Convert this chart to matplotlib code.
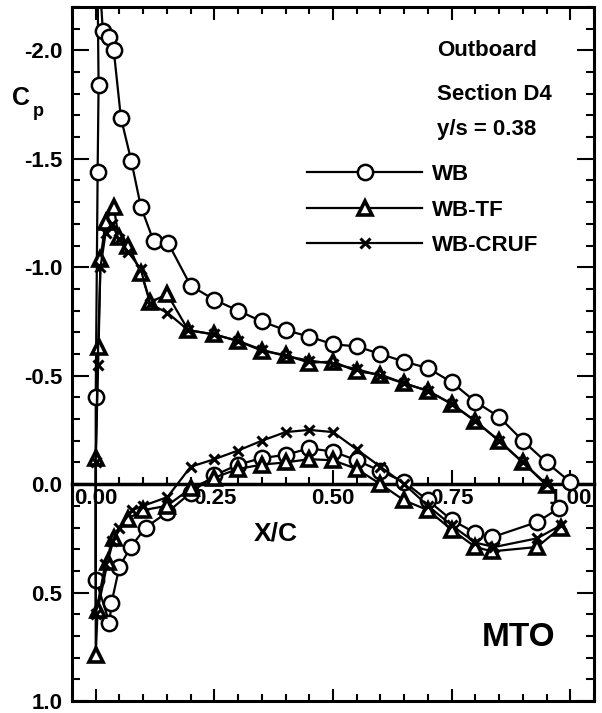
import numpy as np
import matplotlib
matplotlib.use("Agg")
import matplotlib.pyplot as plt
from matplotlib.ticker import MultipleLocator, FixedLocator, FormatStrFormatter

plt.rcParams["font.family"] = ["Liberation Sans", "DejaVu Sans"]
plt.rcParams["font.weight"] = "bold"
plt.rcParams["axes.unicode_minus"] = False

# ---- pressure distributions, each surface listed from the leading edge aft ----
# WB
wb_up_x = [0.0, 0.004, 0.006, 0.003, 0.015, 0.027, 0.038, 0.053, 0.075, 0.095, 0.122, 0.153,
           0.20, 0.25, 0.30, 0.35, 0.40, 0.45, 0.50, 0.55, 0.60, 0.65, 0.70, 0.75, 0.80,
           0.85, 0.90, 0.95, 1.0]
wb_up_cp = [-0.40, -1.44, -1.84, -2.50, -2.09, -2.06, -2.00, -1.69, -1.49, -1.28, -1.12, -1.11,
            -0.915, -0.85, -0.80, -0.75, -0.71, -0.68, -0.645, -0.635, -0.60, -0.565, -0.535,
            -0.47, -0.38, -0.31, -0.20, -0.10, -0.01]
wb_lo_x = [0.0, 0.029, 0.033, 0.05, 0.074, 0.105, 0.151, 0.20, 0.25, 0.30, 0.35, 0.40, 0.45,
           0.50, 0.55, 0.60, 0.65, 0.70, 0.75, 0.80, 0.835, 0.93, 0.977]
wb_lo_cp = [0.44, 0.64, 0.55, 0.38, 0.29, 0.20, 0.13, 0.04, -0.04, -0.09, -0.12, -0.135, -0.165,
            -0.15, -0.11, -0.06, -0.01, 0.075, 0.165, 0.225, 0.245, 0.175, 0.11]

# WB-TF
tf_up_x = [0.0, 0.006, 0.01, 0.021, 0.038, 0.048, 0.069, 0.095, 0.115, 0.151, 0.195, 0.25,
           0.30, 0.35, 0.40, 0.45, 0.50, 0.55, 0.60, 0.65, 0.70, 0.75, 0.80, 0.85, 0.90, 0.95]
tf_up_cp = [-0.12, -0.63, -1.04, -1.21, -1.28, -1.14, -1.10, -0.975, -0.84, -0.875, -0.71,
            -0.69, -0.66, -0.615, -0.595, -0.56, -0.565, -0.52, -0.505, -0.465, -0.43, -0.37,
            -0.29, -0.20, -0.10, 0.005]
tf_lo_x = [0.0, 0.004, 0.025, 0.038, 0.067, 0.10, 0.15, 0.20, 0.25, 0.30, 0.35, 0.40, 0.45,
           0.50, 0.55, 0.60, 0.65, 0.70, 0.75, 0.80, 0.835, 0.93, 0.98]
tf_lo_cp = [0.79, 0.58, 0.36, 0.25, 0.16, 0.12, 0.10, 0.02, -0.03, -0.07, -0.09, -0.10, -0.115,
            -0.11, -0.07, 0.0, 0.075, 0.12, 0.21, 0.29, 0.31, 0.29, 0.20]

# WB-CRUF
cr_up_x = [0.0, 0.004, 0.01, 0.021, 0.035, 0.048, 0.069, 0.095, 0.115, 0.151, 0.195, 0.25,
           0.30, 0.35, 0.40, 0.45, 0.50, 0.55, 0.60, 0.65, 0.70, 0.75, 0.80, 0.85, 0.90, 0.95]
cr_up_cp = [-0.10, -0.55, -1.00, -1.16, -1.20, -1.13, -1.07, -0.99, -0.83, -0.79, -0.71,
            -0.69, -0.66, -0.62, -0.59, -0.57, -0.555, -0.53, -0.50, -0.465, -0.43, -0.37,
            -0.29, -0.20, -0.10, 0.0]
cr_lo_x = [0.0, 0.02, 0.035, 0.05, 0.077, 0.10, 0.151, 0.20, 0.25, 0.30, 0.35, 0.40, 0.45,
           0.50, 0.55, 0.60, 0.65, 0.70, 0.75, 0.80, 0.84, 0.93, 0.98]
cr_lo_cp = [0.60, 0.37, 0.26, 0.20, 0.12, 0.10, 0.06, -0.08, -0.115, -0.155, -0.20, -0.24,
            -0.25, -0.24, -0.16, -0.08, 0.0, 0.10, 0.19, 0.27, 0.29, 0.25, 0.19]

xc_ticks = [0.0, 0.25, 0.50, 0.75, 1.00]

series = [
    ("WB", wb_up_x, wb_up_cp, wb_lo_x, wb_lo_cp, dict(marker="o", ms=11, mfc="white", mew=1.8)),
    ("WB-TF", tf_up_x, tf_up_cp, tf_lo_x, tf_lo_cp, dict(marker="^", ms=10, mfc="white", mew=2.6)),
    ("WB-CRUF", cr_up_x, cr_up_cp, cr_lo_x, cr_lo_cp, dict(marker="x", ms=7, mew=2.2)),
]

W, H = 602, 713
fig = plt.figure(figsize=(W / 100, H / 100), dpi=100)
ax = fig.add_axes([72 / W, 1 - 701 / H, (594 - 72) / W, (701 - 7) / H])

for name, ux, ucp, lx, lcp, style in series:
    # lower surface traced forward to the nose, then the upper surface aft
    x = np.concatenate([lx[::-1], ux])
    cp = np.concatenate([lcp[::-1], ucp])
    ax.plot(x, cp, color="black", lw=1.6, mec="black", label=name, **style)

ax.set_xlim(-0.05, 1.05)
ax.set_ylim(1.0, -2.2)

for s in ax.spines.values():
    s.set_linewidth(2.2)
ax.xaxis.set_major_locator(FixedLocator(xc_ticks))
ax.xaxis.set_minor_locator(MultipleLocator(0.05))
ax.yaxis.set_major_locator(MultipleLocator(0.5))
ax.yaxis.set_minor_locator(MultipleLocator(0.1))
ax.yaxis.set_major_formatter(FormatStrFormatter("%.1f"))
ax.tick_params(which="both", direction="in", top=True, right=True, labelbottom=False,
               width=1.5, labelsize=16, pad=7)
ax.tick_params(axis="y", which="major", length=12)
ax.tick_params(axis="y", which="minor", length=6)
ax.tick_params(axis="x", which="major", length=9)
ax.tick_params(axis="x", which="minor", length=5)

# x axis carried along cp = 0
ymin, ymax = ax.get_ylim()
zero_frac = (0 - ymin) / (ymax - ymin)
sec = ax.secondary_xaxis(zero_frac)
sec.spines["bottom"].set_linewidth(2.5)
sec.xaxis.set_major_locator(FixedLocator(xc_ticks))
sec.xaxis.set_minor_locator(FixedLocator(np.arange(0.05, 1.0, 0.05)))
sec.xaxis.set_major_formatter(FormatStrFormatter("%.2f"))
sec.tick_params(which="both", direction="in", width=1.5, labelsize=16, pad=3)
sec.tick_params(which="major", length=10)
sec.tick_params(which="minor", length=5)

ax.text(0.391, 0.242, "X/C", transform=ax.transAxes, fontsize=19, ha="center", va="center")
fig.text(12 / W, 1 - 98 / H, "C", fontsize=18, ha="left", va="center")
fig.text(33 / W, 1 - 112 / H, "p", fontsize=13, ha="left", va="center")

for txt, yc in [("Outboard", 50), ("Section D4", 94), ("y/s = 0.38", 130)]:
    ax.text(0.699, 1 - (yc - 7) / 694, txt, transform=ax.transAxes, fontsize=16,
            ha="left", va="center")
ax.text(0.785, 0.091, "MTO", transform=ax.transAxes, fontsize=24,
        ha="left", va="center")

ax.legend(loc="upper left", bbox_to_anchor=(0.45, 0.774), frameon=False, numpoints=1,
          fontsize=16, handlelength=5.2, handletextpad=0.45, labelspacing=0.66,
          borderpad=0, borderaxespad=0)

fig.savefig("out.png", dpi=100)
